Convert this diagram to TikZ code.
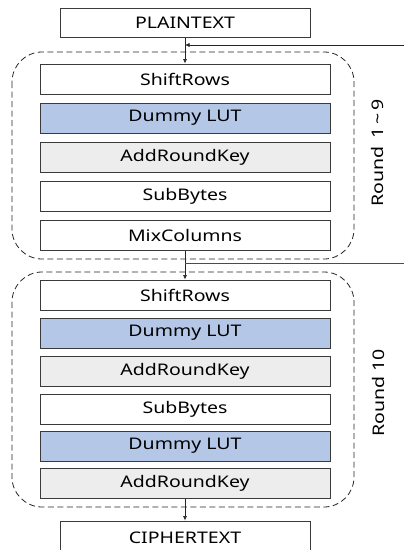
\documentclass[tikz,border=0pt]{standalone}
\usepackage{fontspec}
\setmainfont{Noto Sans}
\newfontfamily\stagefont[FakeStretch=1.22]{Noto Sans}
\usetikzlibrary{arrows.meta}
\definecolor{lutblue}{HTML}{B4C7E7}
\definecolor{keygray}{HTML}{EDEDED}
\definecolor{edgegray}{HTML}{3A3A3A}
\tikzset{
    stage/.style = {draw=edgegray, line width=1pt, fill=white, minimum width=290pt,
        minimum height=30pt, inner sep=0pt, font=\stagefont\fontsize{16}{18}\selectfont},
    lut/.style = {stage, fill=lutblue},
    key/.style = {stage, fill=keygray},
    roundbox/.style = {draw=black!85, dash pattern=on 6pt off 3.5pt,
        rounded corners=30pt, line width=0.8pt},
    flow/.style = {-{Latex[length=4.5pt,width=4pt]}, black!85, line width=0.6pt},
    roundlabel/.style = {rotate=90, font=\stagefont\fontsize{16}{18}\selectfont}
}

\begin{document}
\begin{tikzpicture}[x=1pt, y=-1pt]
    \useasboundingbox (0,0) rectangle (404,550);

    \draw[roundbox] (12,52) rectangle (354,259);
    \draw[roundbox] (12,272) rectangle (354,507);

    \node[stage, minimum width=250pt, minimum height=29pt] (plain) at (185,22.5) {PLAINTEXT};

    \node[stage] (shift1) at (185,79) {ShiftRows};
    \node[lut] (lut1) at (185,118) {Dummy LUT};
    \node[key] (addkey1) at (185,157) {AddRoundKey};
    \node[stage] (sub1) at (185,196) {SubBytes};
    \node[stage] (mix1) at (185,235) {MixColumns};

    \node[stage] (shift2) at (185,295) {ShiftRows};
    \node[lut] (lut2a) at (185,333) {Dummy LUT};
    \node[key] (addkey2a) at (185,371) {AddRoundKey};
    \node[stage] (sub2) at (185,409) {SubBytes};
    \node[lut] (lut2b) at (185,446) {Dummy LUT};
    \node[key] (addkey2b) at (185,483) {AddRoundKey};

    \node[stage, minimum width=250pt, minimum height=34pt] (cipher) at (185,538) {CIPHERTEXT};

    \node[roundlabel] (round1) at (377,153) {Round \,1\,\textasciitilde\,9};
    \node[roundlabel] (round2) at (378,393) {Round 10};

    \coordinate (loopin) at (404,45);
    \coordinate (loopout) at (404,263);

    \draw[flow] (plain) -- (shift1);
    \draw[flow] (mix1) -- (shift2);
    \draw[flow] (addkey2b) -- (cipher);
    \draw[flow] (loopin) -- (loopin -| plain.south);
    \draw[black!70, line width=0.8pt] (loopout -| mix1.south) -- (loopout);
\end{tikzpicture}
\end{document}
